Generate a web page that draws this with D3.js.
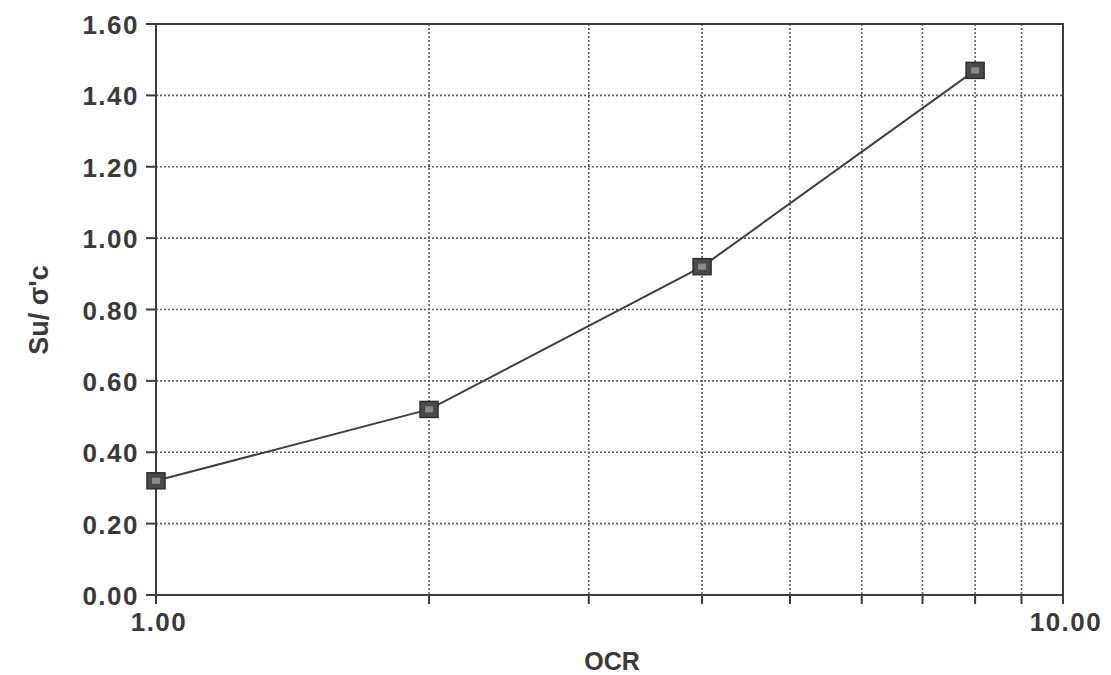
<!DOCTYPE html>
<html>
<head>
<meta charset="utf-8">
<script src="https://cdn.jsdelivr.net/npm/d3@7/dist/d3.min.js"></script>
<style>
  html, body { margin: 0; padding: 0; background: #ffffff; }
  svg text { font-family: "Liberation Sans", Arial, sans-serif; font-weight: bold; fill: #3a3a3a; }
</style>
</head>
<body>
<svg id="chart" width="1111" height="675"></svg>
<script>
// Overconsolidation ratio vs. normalised undrained strength
const ocr = [1, 2, 4, 8];
const strengthRatio = [0.32, 0.52, 0.92, 1.47];

const yTicks = [0, 0.2, 0.4, 0.6, 0.8, 1.0, 1.2, 1.4, 1.6];
const xGridValues = [2, 3, 4, 5, 6, 7, 8, 9];
const xTickLabels = [1, 10];

const xTitle = "OCR";
const yTitle = "Su/ σ'c";

const svg = d3.select("#chart");
const plotLeft = 156, plotRight = 1063, plotTop = 24, plotBottom = 595;

const x = d3.scaleLog().domain([1, 10]).range([plotLeft, plotRight]);
const y = d3.scaleLinear().domain([0, 1.6]).range([plotBottom, plotTop]);

const ink = "#3c3c3c";
const grid = "#606060";

// dotted gridlines
svg.append("g").selectAll("line").data(xGridValues).join("line")
  .attr("x1", d => x(d)).attr("x2", d => x(d))
  .attr("y1", plotTop).attr("y2", plotBottom)
  .attr("stroke", grid).attr("stroke-width", 1.6)
  .attr("stroke-dasharray", "2,2");

svg.append("g").selectAll("line").data(yTicks.filter(d => d > 0 && d < 1.6)).join("line")
  .attr("x1", plotLeft).attr("x2", plotRight)
  .attr("y1", d => y(d)).attr("y2", d => y(d))
  .attr("stroke", grid).attr("stroke-width", 1.6)
  .attr("stroke-dasharray", "2,2");

// frame
svg.append("rect")
  .attr("x", plotLeft).attr("y", plotTop)
  .attr("width", plotRight - plotLeft).attr("height", plotBottom - plotTop)
  .attr("fill", "none").attr("stroke", ink).attr("stroke-width", 2);

// y axis ticks and labels
const yAxis = svg.append("g");
yAxis.selectAll("line").data(yTicks).join("line")
  .attr("x1", plotLeft - 10).attr("x2", plotLeft)
  .attr("y1", d => y(d)).attr("y2", d => y(d))
  .attr("stroke", ink).attr("stroke-width", 2);
yAxis.selectAll("text").data(yTicks).join("text")
  .attr("x", plotLeft - 17).attr("y", d => y(d) + 10)
  .attr("text-anchor", "end")
  .attr("font-size", 26)
  .attr("letter-spacing", "1.5px")
  .text(d => d3.format(".2f")(d));

// x axis ticks and labels
const xAxis = svg.append("g");
xAxis.selectAll("line").data([1, ...xGridValues, 10]).join("line")
  .attr("x1", d => x(d)).attr("x2", d => x(d))
  .attr("y1", plotBottom).attr("y2", plotBottom + 9)
  .attr("stroke", ink).attr("stroke-width", 2);
xAxis.selectAll("text").data(xTickLabels).join("text")
  .attr("x", d => x(d) + 3).attr("y", plotBottom + 36)
  .attr("text-anchor", "middle")
  .attr("font-size", 26)
  .attr("letter-spacing", "1.5px")
  .text(d => d3.format(".2f")(d));

// axis titles
svg.append("text")
  .attr("x", 612).attr("y", 670)
  .attr("text-anchor", "middle")
  .attr("font-size", 25)
  .text(xTitle);

svg.append("text")
  .attr("transform", "translate(48,310) rotate(-90)")
  .attr("text-anchor", "middle")
  .attr("font-size", 27)
  .text(yTitle);

// data line
const pts = ocr.map((d, i) => [d, strengthRatio[i]]);
svg.append("path")
  .datum(pts)
  .attr("fill", "none")
  .attr("stroke", "#404040")
  .attr("stroke-width", 2)
  .attr("d", d3.line().x(d => x(d[0])).y(d => y(d[1])));

// square markers
const m = svg.append("g").selectAll("g").data(pts).join("g")
  .attr("transform", d => `translate(${x(d[0])},${y(d[1])})`);
m.append("rect")
  .attr("x", -9).attr("y", -8).attr("width", 18).attr("height", 16)
  .attr("fill", "#4a4a4a").attr("stroke", "#2e2e2e").attr("stroke-width", 1.5);
m.append("rect")
  .attr("x", -4).attr("y", -3).attr("width", 8).attr("height", 6)
  .attr("fill", "#8a8a8a");
</script>
</body>
</html>
